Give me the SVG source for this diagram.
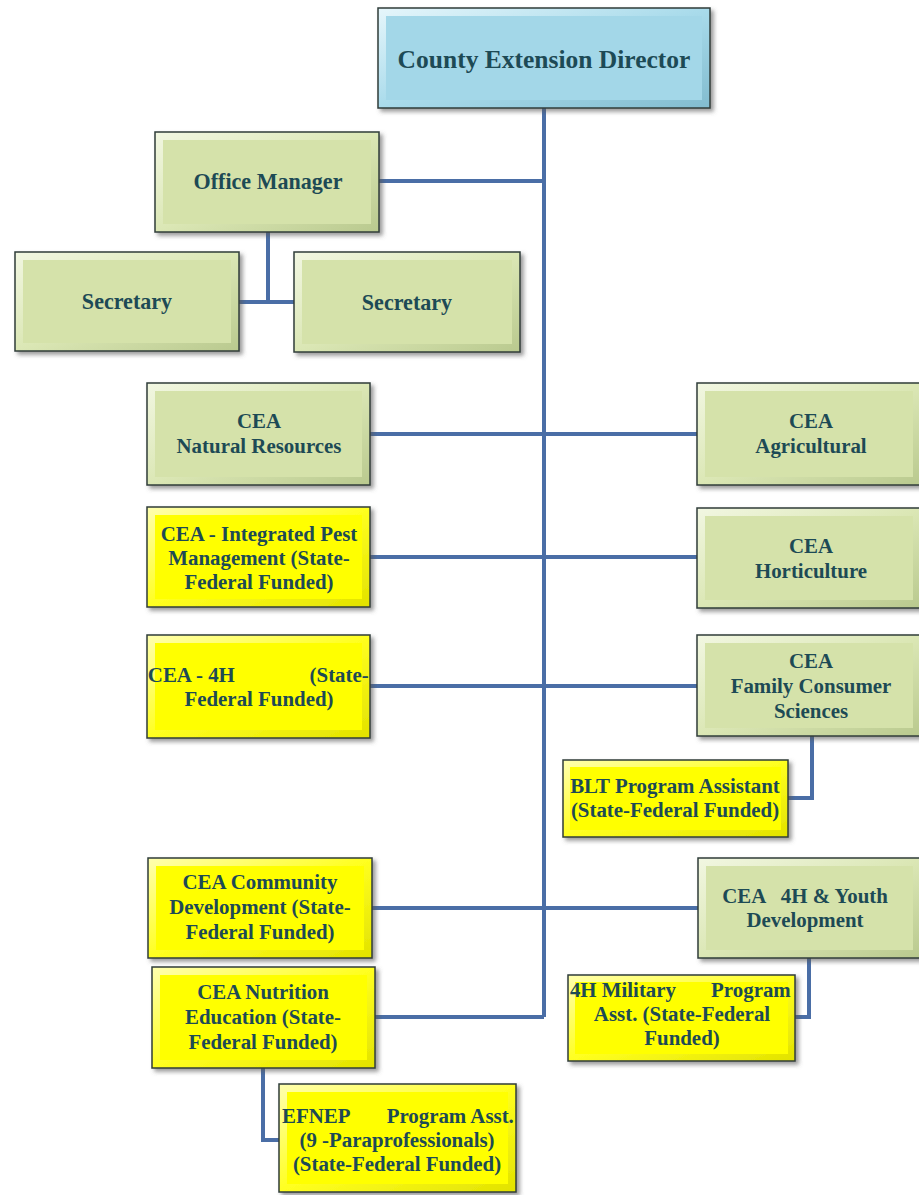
<svg xmlns="http://www.w3.org/2000/svg" width="919" height="1195" viewBox="0 0 919 1195">
<defs>
<filter id="sh" x="-10%" y="-10%" width="125%" height="130%">
<feDropShadow dx="3" dy="3" stdDeviation="2" flood-color="#555" flood-opacity="0.6"/>
</filter>
<linearGradient id="gGreen" x1="0" y1="0" x2="1" y2="1">
<stop offset="0" stop-color="#f2f7e2"/><stop offset="0.5" stop-color="#dbe7b5"/><stop offset="1" stop-color="#b9c98e"/>
</linearGradient>
<linearGradient id="gYellow" x1="0" y1="0" x2="1" y2="1">
<stop offset="0" stop-color="#ffffb0"/><stop offset="0.5" stop-color="#ffff20"/><stop offset="1" stop-color="#e2e200"/>
</linearGradient>
<linearGradient id="gBlue" x1="0" y1="0" x2="1" y2="1">
<stop offset="0" stop-color="#e6f6fb"/><stop offset="0.5" stop-color="#a9dbeb"/><stop offset="1" stop-color="#82bccf"/>
</linearGradient>
</defs>
<style>
.og{fill:url(#gGreen);stroke:#2f3d3a;stroke-width:1.5;filter:url(#sh)}
.ig{fill:#d5e2aa;stroke:none}
.oy{fill:url(#gYellow);stroke:#2f3d3a;stroke-width:1.5;filter:url(#sh)}
.iy{fill:#ffff00;stroke:none}
.ob{fill:url(#gBlue);stroke:#2f3d3a;stroke-width:1.5;filter:url(#sh)}
.ib{fill:#a3d7e8;stroke:none}
text{font-family:"Liberation Serif","Times New Roman",serif;font-weight:bold;fill:#1d4a55;font-size:22px}
.c{text-anchor:middle}
.e{text-anchor:end}
.conn{fill:none;stroke:#4a6ea6;stroke-width:4}
</style>
<g id="connectors">
<path class="conn" d="M544,108 V1017"/>
<path class="conn" d="M379,181 H544"/>
<path class="conn" d="M268,232 V302 M239,302 H294"/>
<path class="conn" d="M370,434 H697"/>
<path class="conn" d="M370,557 H697"/>
<path class="conn" d="M370,686 H697"/>
<path class="conn" d="M812,736 V798 H788"/>
<path class="conn" d="M372,908 H698"/>
<path class="conn" d="M375,1017 H544"/>
<path class="conn" d="M809,958 V1017 H795"/>
<path class="conn" d="M263,1068 V1140 H279"/>
</g>
<g id="director">
<rect class="ob" x="378" y="8" width="332" height="100"/>
<rect class="ib" x="386" y="16" width="316" height="84"/>
<text class="c" x="544" y="68" style="font-size:25.5px">County Extension Director</text>
</g>
<g id="office-manager">
<rect class="og" x="155" y="132" width="224" height="100"/>
<rect class="ig" x="163" y="140" width="208" height="84"/>
<g transform="translate(268,0) scale(0.92,1) translate(-268,0)">
<text class="c" x="268" y="189" style="font-size:24px">Office Manager</text>
</g>
</g>
<g id="secretary-1">
<rect class="og" x="15" y="252" width="224" height="99"/>
<rect class="ig" x="23" y="260" width="208" height="83"/>
<g transform="translate(127,0) scale(0.92,1) translate(-127,0)">
<text class="c" x="127" y="309" style="font-size:24px">Secretary</text>
</g>
</g>
<g id="secretary-2">
<rect class="og" x="294" y="252" width="226" height="100"/>
<rect class="ig" x="302" y="260" width="210" height="84"/>
<g transform="translate(407,0) scale(0.92,1) translate(-407,0)">
<text class="c" x="407" y="310" style="font-size:24px">Secretary</text>
</g>
</g>
<g id="cea-natural">
<rect class="og" x="147" y="383" width="223" height="102"/>
<rect class="ig" x="155" y="391" width="207" height="86"/>
<g transform="translate(259,0) scale(0.95,1) translate(-259,0)">
<text class="c" x="259" y="428">CEA</text>
<text class="c" x="259" y="453">Natural Resources</text>
</g>
</g>
<g id="cea-agri">
<rect class="og" x="697" y="383" width="224" height="102"/>
<rect class="ig" x="705" y="391" width="208" height="86"/>
<g transform="translate(811,0) scale(0.95,1) translate(-811,0)">
<text class="c" x="811" y="428">CEA</text>
<text class="c" x="811" y="453">Agricultural</text>
</g>
</g>
<g id="cea-ipm">
<rect class="oy" x="147" y="507" width="223" height="100"/>
<rect class="iy" x="155" y="515" width="207" height="84"/>
<g transform="translate(259,0) scale(0.95,1) translate(-259,0)">
<text class="c" x="259" y="541">CEA - Integrated Pest</text>
<text class="c" x="259" y="565">Management (State-</text>
<text class="c" x="259" y="589">Federal Funded)</text>
</g>
</g>
<g id="cea-hort">
<rect class="og" x="697" y="508" width="224" height="100"/>
<rect class="ig" x="705" y="516" width="208" height="84"/>
<g transform="translate(811,0) scale(0.95,1) translate(-811,0)">
<text class="c" x="811" y="553">CEA</text>
<text class="c" x="811" y="578">Horticulture</text>
</g>
</g>
<g id="cea-4h">
<rect class="oy" x="147" y="635" width="223" height="103"/>
<rect class="iy" x="155" y="643" width="207" height="87"/>
<g transform="translate(259,0) scale(0.95,1) translate(-259,0)">
<text x="142" y="682">CEA - 4H</text>
<text class="e" x="374.5" y="682">(State-</text>
<text class="c" x="259" y="706">Federal Funded)</text>
</g>
</g>
<g id="cea-fcs">
<rect class="og" x="697" y="635" width="224" height="101"/>
<rect class="ig" x="705" y="643" width="208" height="85"/>
<g transform="translate(811,0) scale(0.95,1) translate(-811,0)">
<text class="c" x="811" y="668">CEA</text>
<text class="c" x="811" y="693">Family Consumer</text>
<text class="c" x="811" y="718">Sciences</text>
</g>
</g>
<g id="blt">
<rect class="oy" x="563" y="760" width="225" height="77"/>
<rect class="iy" x="570" y="767" width="211" height="63"/>
<g transform="translate(675,0) scale(0.95,1) translate(-675,0)">
<text class="c" x="675" y="793">BLT Program Assistant</text>
<text class="c" x="675" y="817">(State-Federal Funded)</text>
</g>
</g>
<g id="cea-community">
<rect class="oy" x="148" y="858" width="224" height="100"/>
<rect class="iy" x="156" y="866" width="208" height="84"/>
<g transform="translate(260,0) scale(0.95,1) translate(-260,0)">
<text class="c" x="260" y="889">CEA Community</text>
<text class="c" x="260" y="914">Development (State-</text>
<text class="c" x="260" y="939">Federal Funded)</text>
</g>
</g>
<g id="cea-nutrition">
<rect class="oy" x="152" y="967" width="223" height="101"/>
<rect class="iy" x="160" y="975" width="207" height="85"/>
<g transform="translate(263,0) scale(0.95,1) translate(-263,0)">
<text class="c" x="263" y="999">CEA Nutrition</text>
<text class="c" x="263" y="1024">Education (State-</text>
<text class="c" x="263" y="1049">Federal Funded)</text>
</g>
</g>
<g id="cea-4h-youth">
<rect class="og" x="698" y="858" width="223" height="100"/>
<rect class="ig" x="706" y="866" width="207" height="84"/>
<g transform="translate(805,0) scale(0.95,1) translate(-805,0)">
<text class="c" x="805" y="903" xml:space="preserve">CEA   4H &amp; Youth</text>
<text class="c" x="805" y="927">Development</text>
</g>
</g>
<g id="military">
<rect class="oy" x="568" y="975" width="227" height="86"/>
<rect class="iy" x="575" y="982" width="213" height="72"/>
<g transform="translate(682,0) scale(0.95,1) translate(-682,0)">
<text x="564" y="997">4H Military</text>
<text class="e" x="796.5" y="997">Program</text>
<text class="c" x="682" y="1021">Asst. (State-Federal</text>
<text class="c" x="682" y="1045">Funded)</text>
</g>
</g>
<g id="efnep">
<rect class="oy" x="279" y="1084" width="237" height="108"/>
<rect class="iy" x="287" y="1092" width="221" height="92"/>
<g transform="translate(397,0) scale(0.95,1) translate(-397,0)">
<text x="276" y="1123">EFNEP</text>
<text class="e" x="520" y="1123">Program Asst.</text>
<text class="c" x="397" y="1147">(9 -Paraprofessionals)</text>
<text class="c" x="397" y="1171">(State-Federal Funded)</text>
</g>
</g>
</svg>
